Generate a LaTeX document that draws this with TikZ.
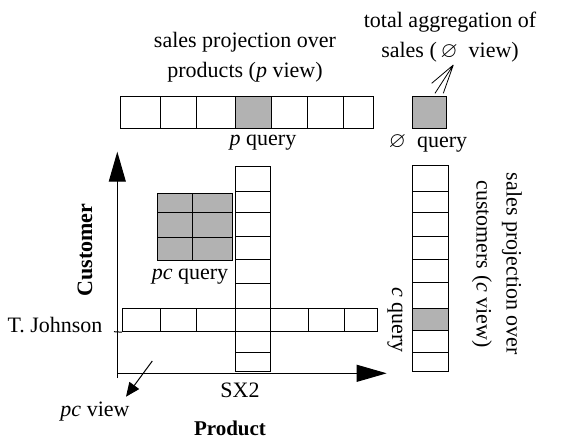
\documentclass[tikz,border=0pt]{standalone}
\usepackage{amssymb}
\usepackage{fontspec}
\setmainfont{Liberation Serif}
\usetikzlibrary{arrows.meta}

\begin{document}
\begin{tikzpicture}[x=1pt, y=-1pt,
    every node/.style={font=\fontsize{22}{30}\selectfont},
    cell/.style={draw, line width=1pt, inner sep=0pt},
    grcell/.style={cell, fill=gray!60},
    axis/.style={line width=1pt, -{Triangle[length=30pt, width=17pt]}}]

  \useasboundingbox (0,0) rectangle (573,441);

  % p view
  \foreach \n/\xa/\xb/\fc in {1/120.7/160.7/white, 2/160.7/196/white, 3/196/235.7/white, 4/235.7/271.7/gray!60,
                             5/271.7/307.3/white, 6/307.3/343.3/white, 7/343.3/373.3/white}
    \node[cell, fill=\fc, minimum width={(\xb-\xa)*1pt}, minimum height=31.6pt] (p\n) at ({(\xa+\xb)/2}, 112.5) {};

  % empty view
  \node[grcell, minimum width=34.4pt, minimum height=31.6pt] (all) at (429.5,112.5) {};

  % axes
  \coordinate (origin) at (117.3,373.3);
  \coordinate (cbot) at (117.3,378);
  \coordinate (ctop) at (117.3,151.7);
  \coordinate (pend) at (386.7,373.3);
  \draw[axis] (cbot) -- (ctop);
  \draw[axis] (origin) -- (pend);

  % SX2 column
  \foreach \n/\ya/\yb in {1/166.7/191.7, 2/191.7/212.7, 3/212.7/236.7, 4/236.7/259.3, 5/259.3/283.3,
                         6/283.3/308.3, 7/308.3/331.7, 8/331.7/352.7, 9/352.7/371.7}
    \node[cell, minimum width=34.7pt, minimum height={(\yb-\ya)*1pt}] (s\n) at (252.7, {(\ya+\yb)/2}) {};

  % T. Johnson row
  \foreach \n/\xa/\xb in {1/122.5/160.5, 2/160.5/196, 3/196/235.3, 4/270/308.3, 5/308.3/344, 6/344/377.3}
    \node[cell, minimum width={(\xb-\xa)*1pt}, minimum height=23.4pt] (t\n) at ({(\xa+\xb)/2}, 320) {};

  % c view
  \foreach \n/\ya/\yb/\fc in {1/166/191/white, 2/191/212.3/white, 3/212.3/236/white, 4/236/259/white,
                             5/259/282.7/white, 6/282.7/308.7/white, 7/308.7/330.7/gray!60,
                             8/330.7/352/white, 9/352/371.7/white}
    \node[cell, fill=\fc, minimum width=35.6pt, minimum height={(\yb-\ya)*1pt}] (c\n) at (430.5, {(\ya+\yb)/2}) {};

  % pc query block
  \foreach \i/\xa/\xb in {1/157.3/192.7, 2/192.7/232.3}
    \foreach \j/\ya/\yb in {1/193.3/212.3, 2/212.3/237.7, 3/237.7/260.7}
      \node[grcell, minimum width={(\xb-\xa)*1pt}, minimum height={(\yb-\ya)*1pt}] (pc\i\j) at ({(\xa+\xb)/2}, {(\ya+\yb)/2}) {};

  % tick for T. Johnson
  \coordinate (tick) at (114,331.7);
  \draw[line width=1pt] (tick) -- (t1.south west);

  % labels
  \node[align=center] (plabel) at (245,57) {sales projection over\\products (\textit{p} view)};
  \node[align=center] (alllabel) at (450,37) {total aggregation of\\sales (\,$\varnothing$\ \ view)};
  \node (pquery) at (263,143) {\textit{p} query};
  \node (allquery) at (428,143) {$\varnothing$\ \ query};
  \node[rotate=90, font=\fontsize{22}{30}\selectfont\bfseries] (cust) at (85,250) {Customer};
  \node (pcquery) at (190,277) {\textit{pc} query};
  \node (tj) at (55,325) {T. Johnson};
  \node (sx) at (240,390) {SX2};
  \node (pcview) at (95,412) {\textit{pc} view};
  \node[inner sep=1pt, font=\fontsize{21}{30}\selectfont\bfseries] (prod) at (230,428) {Product};
  \node[rotate=-90] (cquery) at (395,320) {\textit{c} query};
  \node[rotate=-90, align=center] (clabel) at (497,264) {sales projection over\\customers (\textit{c} view)};

  % pointer to empty view
  \coordinate (fan) at (453.3,65);
  \coordinate (f1) at (431.7,83.3);
  \coordinate (f2) at (435,93.3);
  \coordinate (f3) at (443.3,93.3);
  \draw[line width=0.8pt] (fan) -- (f1) (fan) -- (f2) (fan) -- (f3);

  % pc view arrow
  \coordinate (pcfrom) at (152.3,361);
  \coordinate (pctip) at (126,396.7);
  \draw[line width=1pt, -{Triangle[length=14pt, width=12pt]}] (pcfrom) -- (pctip);

\end{tikzpicture}
\end{document}
